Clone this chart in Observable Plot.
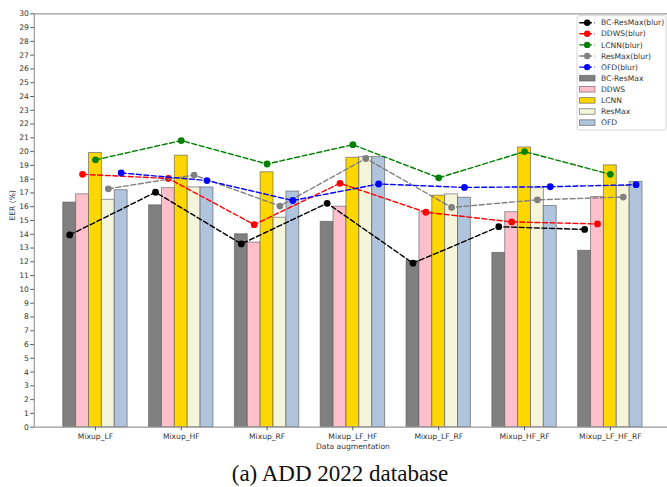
<!DOCTYPE html>
<html>
<head>
<meta charset="utf-8">
<script src="https://cdn.jsdelivr.net/npm/d3@7"></script>
<script src="https://cdn.jsdelivr.net/npm/@observablehq/plot@0.6"></script>
<style>
  html, body { margin: 0; padding: 0; background: #fff; }
  #wrap { position: relative; width: 667px; height: 487px; overflow: hidden; }
  #caption { position: absolute; left: 0; top: 462px; width: 680px; text-align: center;
    font-family: "Liberation Serif", "DejaVu Serif", serif; font-size: 23px; line-height: 23px; color: #111; }
</style>
</head>
<body>
<div id="wrap"><div id="chart"></div><div id="caption">(a) ADD 2022 database</div></div>
<script>
const categories = ["Mixup_LF", "Mixup_HF", "Mixup_RF", "Mixup_LF_HF", "Mixup_LF_RF", "Mixup_HF_RF", "Mixup_LF_HF_RF"];
const models = ["BC-ResMax", "DDWS", "LCNN", "ResMax", "OFD"];
const barColors = ["#808080", "#FFC0CB", "#FFD700", "#F5F5DC", "#B0C4DE"];
const lineColors = ["black", "red", "green", "gray", "blue"];
const yTicks = d3.range(0, 31);

// bar values (EER %)
const bcResMax = [16.3, 16.1, 14.0, 14.9, 12.05, 12.65, 12.8];
const ddws     = [16.9, 17.35, 13.4, 16.0, 15.6, 15.6, 16.7];
const lcnn     = [19.9, 19.7, 18.5, 19.55, 16.8, 20.3, 19.0];
const resMax   = [16.5, 17.4, 15.2, 19.6, 16.9, 17.35, 17.5];
const ofd      = [17.2, 17.4, 17.1, 19.6, 16.65, 16.05, 17.8];

// blur line values (EER %)
const bcResMaxBlur = [13.95, 17.05, 13.3, 16.25, 11.9, 14.55, 14.35];
const ddwsBlur     = [18.35, 18.05, 14.7, 17.7, 15.6, 14.9, 14.75];
const lcnnBlur     = [19.4, 20.8, 19.1, 20.5, 18.1, 20.0, 18.35];
const resMaxBlur   = [17.3, 18.3, 16.05, 19.5, 15.95, 16.5, 16.7];
const ofdBlur      = [18.45, 17.9, 16.45, 17.65, 17.4, 17.45, 17.6];

const barSeries = [bcResMax, ddws, lcnn, resMax, ofd];
const blurSeries = [bcResMaxBlur, ddwsBlur, lcnnBlur, resMaxBlur, ofdBlur];
const W = 0.15;

const barMarks = barSeries.map((vals, k) => Plot.rectY(
  vals.map((v, i) => ({ x1: i + (k - 2) * W - W / 2, x2: i + (k - 2) * W + W / 2, y: v })),
  { x1: "x1", x2: "x2", y1: 0, y2: "y", fill: barColors[k], stroke: "#555", strokeOpacity: 0.6, strokeWidth: 1, insetLeft: 0, insetRight: 0 }
));

const lineMarks = blurSeries.flatMap((vals, k) => {
  const pts = vals.map((v, i) => ({ x: i + (k - 2) * W, y: v }));
  return [
    Plot.line(pts, { x: "x", y: "y", stroke: lineColors[k], strokeWidth: 1.4, strokeDasharray: "5,2.6" }),
    Plot.dot(pts, { x: "x", y: "y", r: 3.4, fill: lineColors[k], stroke: "none" })
  ];
});

const chart = Plot.plot({
  width: 667,
  height: 455,
  marginLeft: 33.8,
  marginRight: 0,
  marginTop: 13.3,
  marginBottom: 28.3,
  style: { fontFamily: "DejaVu Sans", fontSize: "7.6px", color: "#333", background: "#fff" },
  x: { domain: [-0.7125, 6.7125], range: [33.8, 671] },
  y: { domain: [0, 30], range: [426.7, 13.3] },
  marks: [
    ...barMarks,
    ...lineMarks,
    Plot.ruleY([0, 30], { stroke: "#999", strokeWidth: 1.2 }),
    Plot.ruleX([-0.7125], { stroke: "#999", strokeWidth: 1.2 }),
    Plot.axisY({ ticks: yTicks, tickSize: 3.5, tickPadding: 2, label: null, stroke: "#555" }),
    Plot.axisX({ ticks: d3.range(0, categories.length), tickFormat: i => categories[i], tickSize: 3.5, tickPadding: 3, label: null, stroke: "#555" }),
    Plot.text(["EER (%)"], { frameAnchor: "left", rotate: -90, dx: -22, fill: "#333", fontSize: 7.6 }),
    Plot.text(["Data augmentation"], { frameAnchor: "bottom", dy: 19, dx: 2, lineAnchor: "middle", fill: "#333", fontSize: 7.6 })
  ]
});
document.getElementById("chart").appendChild(chart);

// legend inside the plot area (top right)
const svg = d3.select(chart);
const lg = svg.append("g").attr("font-family", "DejaVu Sans").attr("font-size", "7.6px").attr("text-anchor", "start");
lg.append("rect").attr("x", 577).attr("y", 15.7).attr("width", 89).attr("height", 114.3)
  .attr("rx", 2).attr("fill", "#fff").attr("fill-opacity", 0.85).attr("stroke", "#ccc").attr("stroke-width", 0.8);
const y0 = 22.7, dy = 11.1;
models.forEach((m, k) => {
  const y = y0 + k * dy;
  lg.append("line").attr("x1", 579.3).attr("x2", 595).attr("y1", y).attr("y2", y)
    .attr("stroke", lineColors[k]).attr("stroke-width", 1.4).attr("stroke-dasharray", "5,2.6");
  lg.append("circle").attr("cx", 587.2).attr("cy", y).attr("r", 3.2).attr("fill", lineColors[k]);
  lg.append("text").attr("x", 601).attr("y", y).attr("dy", "0.35em").attr("text-anchor", "start").attr("fill", "#333").text(m + "(blur)");
});
models.forEach((m, k) => {
  const y = y0 + (k + 5) * dy;
  lg.append("rect").attr("x", 579.5).attr("y", y - 2.8).attr("width", 15.5).attr("height", 5.6)
    .attr("fill", barColors[k]).attr("stroke", "#555").attr("stroke-opacity", 0.6).attr("stroke-width", 1);
  lg.append("text").attr("x", 601).attr("y", y).attr("dy", "0.35em").attr("text-anchor", "start").attr("fill", "#333").text(m);
});
</script>
</body>
</html>
